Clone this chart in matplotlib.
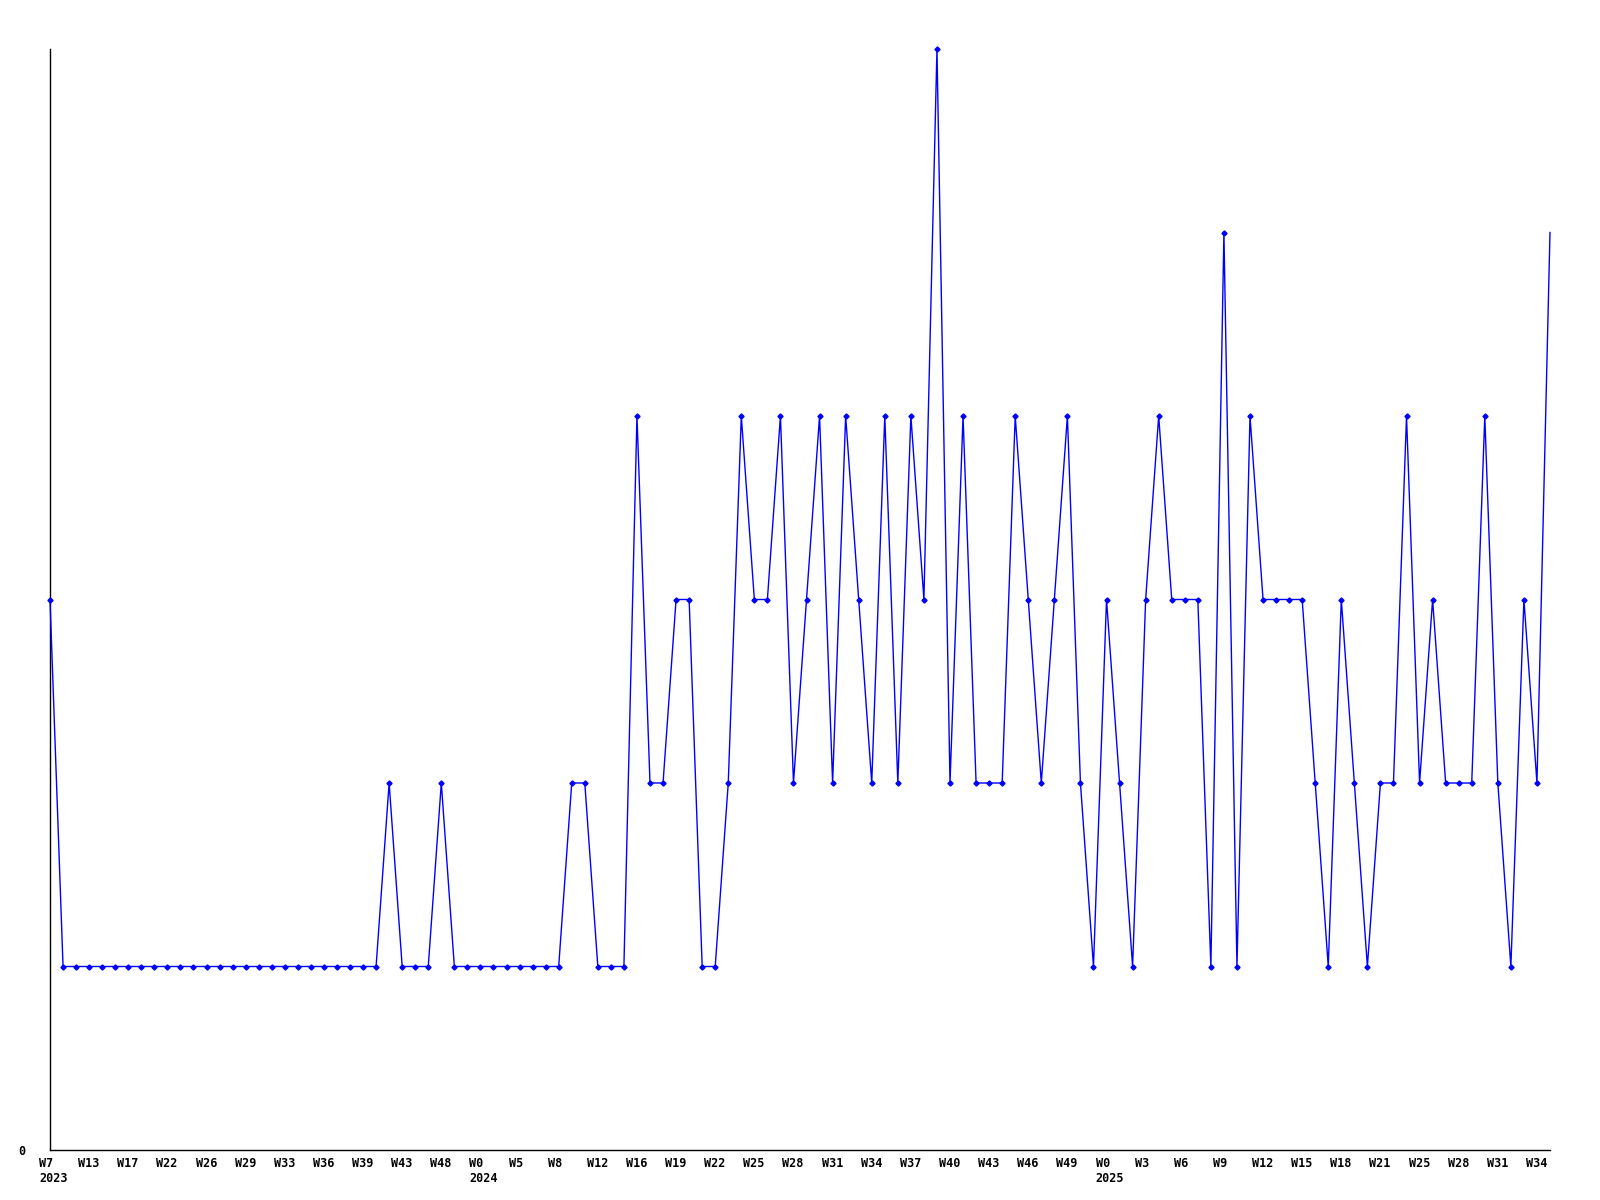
import matplotlib
matplotlib.use("Agg")
import matplotlib.pyplot as plt
from matplotlib.transforms import ScaledTranslation

# one value per sample
values = [3] + [1] * 25 + [2, 1, 1, 1, 2] + [1] * 9 + \
    [2, 2, 1, 1, 1, 4, 2, 2, 3, 3, 1, 1, 2, 4, 3, 3, 4, 2, 3, 4,
     2, 4, 3, 2, 4, 2, 4, 3, 6, 2, 4, 2, 2, 2, 4, 3, 2, 3, 4, 2,
     1, 3, 2, 1, 3, 4, 3, 3, 3, 1, 5, 1, 4, 3, 3, 3, 3, 2, 1, 3,
     2, 1, 2, 2, 4, 2, 3, 2, 2, 2, 4, 2, 1, 3, 2, 5]

# labelled every third sample
week_labels = ["W7", "W13", "W17", "W22", "W26", "W29", "W33", "W36", "W39", "W43", "W48",
               "W0", "W5", "W8", "W12", "W16", "W19", "W22", "W25", "W28", "W31", "W34",
               "W37", "W40", "W43", "W46", "W49",
               "W0", "W3", "W6", "W9", "W12", "W15", "W18", "W21", "W25", "W28", "W31", "W34"]
year_labels = {0: "2023", 11: "2024", 27: "2025"}

fig = plt.figure(figsize=(16, 12), dpi=100)
ax = fig.add_axes([50 / 1600, 50 / 1200, 1500 / 1600, 1101 / 1200])

xs = list(range(len(values)))
# the last sample has no marker in the original
ax.plot(xs, values, color="#0000ff", lw=1.0, marker="D", markersize=2.6,
        markevery=list(range(len(values) - 1)), clip_on=False, zorder=3)

ax.set_xlim(0, len(values) - 1)
ax.set_ylim(0, 6)

for s in ["top", "right"]:
    ax.spines[s].set_visible(False)
for s in ["left", "bottom"]:
    ax.spines[s].set_color("black")
    ax.spines[s].set_linewidth(1.0)

ticks = [3 * i for i in range(len(week_labels))]
labels = []
for i, w in enumerate(week_labels):
    if i in year_labels:
        labels.append(w + "\n" + year_labels[i])
    else:
        labels.append(w)
ax.set_xticks(ticks)
ax.set_xticklabels(labels, ha="left", va="top", linespacing=1.2,
                   family="DejaVu Sans Mono", fontweight="bold", fontsize=8.5)
ax.tick_params(axis="x", length=0, pad=5)
offset = ScaledTranslation(-11 / 100, 0, fig.dpi_scale_trans)
for lab in ax.get_xticklabels():
    lab.set_transform(lab.get_transform() + offset)

ax.set_yticks([0])
ax.set_yticklabels(["0"], family="DejaVu Sans Mono", fontweight="bold", fontsize=8.5)
ax.tick_params(axis="y", length=0, pad=18)

fig.savefig("out.png", dpi=100, facecolor="white")
